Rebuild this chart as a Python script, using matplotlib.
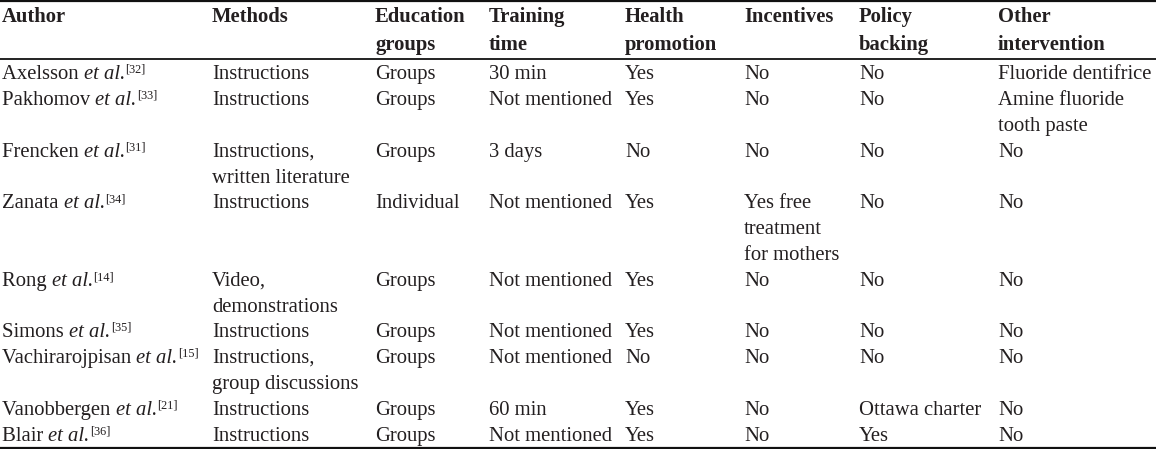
# -*- coding: utf-8 -*-
"""
Table: summary of oral health education interventions.
Output: out.png
"""

import matplotlib.pyplot as plt
from matplotlib import rcParams

rcParams['font.family'] = 'Liberation Serif'

# ── Data ─────────────────────────────────────────────────────────────────
headers = ['Author', 'Methods', 'Education\ngroups', 'Training\ntime',
           'Health\npromotion', 'Incentives', 'Policy\nbacking', 'Other\nintervention']

authors = ['Axelsson', 'Pakhomov', 'Frencken', 'Zanata', 'Rong', 'Simons',
           'Vachirarojpisan', 'Vanobbergen', 'Blair']
refs = ['32', '33', '31', '34', '14', '35', '15', '21', '36']

methods = ['Instructions', 'Instructions', 'Instructions,\nwritten literature',
           'Instructions', 'Video,\ndemonstrations', 'Instructions',
           'Instructions,\ngroup discussions', 'Instructions', 'Instructions']
edu_groups = ['Groups', 'Groups', 'Groups', 'Individual', 'Groups', 'Groups',
              'Groups', 'Groups', 'Groups']
training = ['30 min', 'Not mentioned', '3 days', 'Not mentioned', 'Not mentioned',
            'Not mentioned', 'Not mentioned', '60 min', 'Not mentioned']
health_promo = ['Yes', 'Yes', 'No', 'Yes', 'Yes', 'Yes', 'No', 'Yes', 'Yes']
incentives = ['No', 'No', 'No', 'Yes free\ntreatment\nfor mothers', 'No', 'No',
              'No', 'No', 'No']
policy = ['No', 'No', 'No', 'No', 'No', 'No', 'No', 'Ottawa charter', 'Yes']
other = ['Fluoride dentifrice', 'Amine fluoride\ntooth paste', 'No', 'No', 'No',
         'No', 'No', 'No', 'No']

# ── Layout (pixel units) ─────────────────────────────────────────────────
W, H = 1156, 449
col_x = [2, 212, 375, 489, 625, 744, 859, 998]
line_h = 25.8
head_base = [22, 50]
body_base0 = 79.4
FS = 14.9
SUP_FS = 8.8
TXT = '#231f20'

fig = plt.figure(figsize=(W / 100, H / 100), dpi=100, facecolor='white')
ax = fig.add_axes([0, 0, 1, 1])
ax.set_xlim(0, W)
ax.set_ylim(H, 0)
ax.axis('off')

# rules
for y, lw in [(1.0, 1.6), (59.0, 1.3), (447.5, 1.6)]:
    ax.plot([0, W], [y, y], color='#111111', lw=lw, solid_capstyle='butt')

# header
for x, h in zip(col_x, headers):
    for k, ln in enumerate(h.split('\n')):
        ax.text(x, head_base[k], ln, fontsize=FS, fontweight='bold',
                color=TXT, va='baseline', ha='left')

fig.canvas.draw()
renderer = fig.canvas.get_renderer()
inv = ax.transData.inverted()


def right_edge(t):
    bb = t.get_window_extent(renderer)
    return inv.transform((bb.x1, bb.y0))[0]


columns = [methods, edu_groups, training, health_promo, incentives, policy, other]
y = body_base0
for i in range(len(authors)):
    yb = round(y)
    # author with italic "et al." and superscript reference
    t1 = ax.text(col_x[0], yb, authors[i] + ' ', fontsize=FS, color=TXT,
                 va='baseline', ha='left')
    x1 = right_edge(t1)
    t2 = ax.text(x1, yb, 'et al.', fontsize=FS, style='italic', color=TXT,
                 va='baseline', ha='left')
    x2 = right_edge(t2)
    ax.text(x2 + 0.5, yb - 6, '[' + refs[i] + ']', fontsize=SUP_FS, color=TXT,
            va='baseline', ha='left')

    n_lines = 1
    for x, col in zip(col_x[1:], columns):
        parts = col[i].split('\n')
        n_lines = max(n_lines, len(parts))
        for k, ln in enumerate(parts):
            ax.text(x, round(y + k * line_h), ln, fontsize=FS, color=TXT,
                    va='baseline', ha='left')
    y += n_lines * line_h

fig.savefig('out.png', dpi=100, facecolor='white')
